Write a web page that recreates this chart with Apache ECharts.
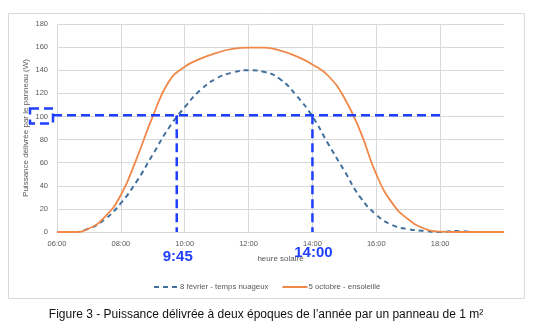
<!DOCTYPE html>
<html><head><meta charset="utf-8">
<script src="https://cdn.jsdelivr.net/npm/echarts@6/dist/echarts.min.js"></script>
<style>html,body{margin:0;padding:0;background:#fff;}#c{width:539px;height:327px;}</style>
</head><body><div id="c"></div>
<script>
// Hours (decimal) every 30 minutes
const hoursA = [6,6.5,7,7.5,8,8.5,9,9.5,10,10.5,11,11.5,12,12.5,13,13.5,14,14.5,15,15.5,16,16.5,17,17.5,18,18.5,19];
const fevrier = [0,0,3,11,25,44,67,90,108,123,133,138,140,138.5,132,118,100,76,53,30,15,6,2.5,1,0,0.8,0];
const hoursB = [6,6.5,7,7.5,8,8.5,9,9.5,10,10.5,11,11.5,12,12.5,13,13.5,14,14.5,15,15.5,16,16.5,17,17.5,18,18.5,19,19.5,20];
const octobre = [0,0,3,13,32,64,100,130,143,150,155,158.5,159.5,159.5,157,152,145,135,116,87,50,25,11,3,0.3,0,0,0,0];
const xTicks = ['06:00','08:00','10:00','12:00','14:00','16:00','18:00','20:00'];
const markTimes = [9.75, 14];
const markLabels = ['9:45','14:00'];
const markLevel = 101;
const markEnd = 18.1;
const seriesNames = ['8 février - temps nuageux','5 octobre - ensoleillé'];

const chart = echarts.init(document.getElementById('c'));
const grey = '#595959';
const gridC = '#D9D9D9';
const font = 'Liberation Sans';
const option = {
  animation:false,
  backgroundColor:'#fff',
  grid:{left:57,right:35,top:24,bottom:95},
  xAxis:{type:'value',min:6,max:20,interval:2,
    name:'heure solaire',nameLocation:'middle',nameGap:23,nameMoveOverlap:false,
    nameTextStyle:{color:grey,fontSize:8,fontFamily:font},
    axisLine:{show:true,lineStyle:{color:gridC}},axisTick:{show:false},
    axisLabel:{color:grey,fontSize:7.5,fontFamily:font,margin:8,showMaxLabel:false,
      formatter:v=>xTicks[Math.round((v-6)/2)]},
    splitLine:{show:true,showMaxLine:false,lineStyle:{color:gridC}}},
  yAxis:{type:'value',min:0,max:180,interval:20,
    name:'Puissance délivrée par le panneau (W)',nameLocation:'middle',nameGap:27,nameMoveOverlap:false,
    nameTextStyle:{color:grey,fontSize:8,fontFamily:font},
    axisLine:{show:false},axisTick:{show:false},
    axisLabel:{color:grey,fontSize:7.5,fontFamily:font,margin:9},
    splitLine:{lineStyle:{color:gridC}}},
  legend:{top:278,left:148,itemGap:13,itemWidth:25,itemHeight:10,orient:'horizontal',
    itemStyle:{opacity:0},
    textStyle:{color:grey,fontSize:7.8,fontFamily:font,padding:[0,0,0,-4]},
    data:[seriesNames[0],seriesNames[1]]},
  series:[
    {name:seriesNames[0],type:'line',smooth:0.5,symbol:'none',
     data:hoursA.map((h,i)=>[h,fevrier[i]]),
     lineStyle:{color:'#41719C',width:2,type:[5,4]},itemStyle:{color:'#41719C'}},
    {name:seriesNames[1],type:'line',smooth:0.5,symbol:'none',
     data:hoursB.map((h,i)=>[h,octobre[i]]),
     lineStyle:{color:'#F0884A',width:1.8},itemStyle:{color:'#F0884A'}}
  ]
};
chart.setOption(option);

const blue = '#1F3FFF';
const dashStyle = {stroke:blue,lineWidth:2.5,lineDash:[9,5],fill:null};
const p0 = chart.convertToPixel({gridIndex:0},[6,markLevel]);
const pEnd = chart.convertToPixel({gridIndex:0},[markEnd,markLevel]);
const p100 = chart.convertToPixel({gridIndex:0},[6,100]);
const elements = [];
elements.push({type:'rect',shape:{x:p0[0]-27,y:p100[1]-8,width:23,height:15},style:dashStyle,z:100});
elements.push({type:'line',shape:{x1:p0[0]-4,y1:p0[1],x2:pEnd[0],y2:pEnd[1]},style:dashStyle,z:100});
markTimes.forEach((t,i)=>{
  const a = chart.convertToPixel({gridIndex:0},[t,markLevel]);
  const b = chart.convertToPixel({gridIndex:0},[t,0]);
  elements.push({type:'line',shape:{x1:a[0],y1:a[1],x2:b[0],y2:b[1]},style:dashStyle,z:100});
  elements.push({type:'text',x:b[0]+1,y:b[1]+(i===0?25:21),
    style:{text:markLabels[i],fill:blue,font:'bold 15px "Liberation Sans"',align:'center',verticalAlign:'middle'},z:100});
});
elements.push({type:'rect',shape:{x:8.5,y:13.5,width:516,height:285},style:{stroke:'#D9D9D9',lineWidth:1,fill:null},z:-1,silent:true});
elements.push({type:'text',x:266,y:315,style:{text:'Figure 3 - Puissance délivrée à deux époques de l\u2019année par un panneau de 1 m²',
  fill:'#111',font:'12px "Liberation Sans"',align:'center',verticalAlign:'middle'}});
chart.setOption({graphic:{elements:elements}});
</script></body></html>
